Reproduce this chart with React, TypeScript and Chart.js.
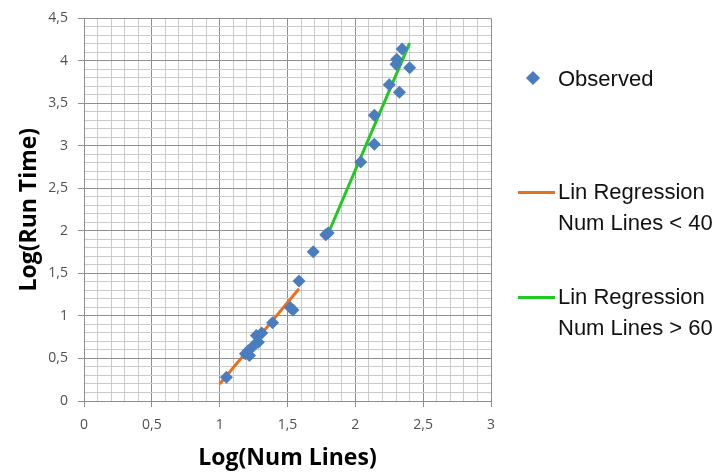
import React, { useEffect, useRef } from "react";
import { Chart, registerables } from "chart.js";

Chart.register(...registerables);

const observedX = [1.05, 1.19, 1.21, 1.22, 1.25, 1.27, 1.285, 1.31, 1.39, 1.52, 1.54, 1.585, 1.69, 1.782, 1.80, 2.04, 2.14, 2.14, 2.25, 2.30, 2.305, 2.325, 2.345, 2.40];
const observedY = [0.28, 0.555, 0.59, 0.535, 0.65, 0.77, 0.69, 0.80, 0.92, 1.10, 1.07, 1.41, 1.756, 1.955, 1.975, 2.81, 3.02, 3.36, 3.72, 3.96, 4.02, 3.63, 4.14, 3.92];

const lowRegX = [1.0, 1.585];
const lowRegY = [0.2, 1.32];
const highRegX = [1.8, 2.4];
const highRegY = [1.97, 4.21];

const xTickRange = [0, 3];
const yTickRange = [0, 4.5];

const legendLabels = ["Observed", "Lin Regression\nNum Lines < 40", "Lin Regression\nNum Lines > 60"];

const BLUE = "#4a7dbd";
const ORANGE = "#e8711f";
const GREEN = "#1fc91f";
const MAJOR = "#8e8e8e";
const MINOR = "#cbcbcb";

const toPts = (xs: number[], ys: number[]) => xs.map((x, i) => ({ x, y: ys[i] }));
const isMajor = (v: number) => Math.abs(v * 2 - Math.round(v * 2)) < 1e-6;
const fmt = (v: number) => (Math.round(v * 10) / 10).toString().replace(".", ",");

export default function App() {
  const ref = useRef<HTMLCanvasElement | null>(null);

  useEffect(() => {
    if (!ref.current) return;
    const tickFont = { family: "'Open Sans', sans-serif", size: 14 };
    const gridOpts = {
      color: (c: any) => (c.tick && isMajor(c.tick.value) ? MAJOR : MINOR),
      tickColor: (c: any) => (c.tick && isMajor(c.tick.value) ? MAJOR : "rgba(0,0,0,0)"),
      tickLength: 6,
      lineWidth: 1,
    };
    const chart = new Chart(ref.current, {
      type: "scatter",
      data: {
        datasets: [
          {
            label: legendLabels[0],
            data: toPts(observedX, observedY),
            pointStyle: "rectRot",
            pointRadius: 6.5,
            backgroundColor: BLUE,
            borderColor: BLUE,
            borderWidth: 0,
            order: 0,
          },
          {
            label: legendLabels[1],
            data: toPts(lowRegX, lowRegY),
            showLine: true,
            pointRadius: 0,
            borderColor: ORANGE,
            borderWidth: 3,
            order: 1,
          },
          {
            label: legendLabels[2],
            data: toPts(highRegX, highRegY),
            showLine: true,
            pointRadius: 0,
            borderColor: GREEN,
            borderWidth: 3,
            order: 1,
          },
        ],
      },
      options: {
        animation: false,
        responsive: true,
        maintainAspectRatio: false,
        layout: { padding: { left: 0, top: 15, right: 230, bottom: 0 } },
        plugins: { legend: { display: false }, tooltip: { enabled: false } },
        scales: {
          x: {
            type: "linear",
            min: xTickRange[0],
            max: xTickRange[1],
            afterFit: (s: any) => {
              s.height = 73;
            },
            ticks: {
              stepSize: 0.1,
              autoSkip: false,
              maxRotation: 0,
              padding: 10,
              color: "#505050",
              font: tickFont,
              callback: (v: any) => (isMajor(Number(v)) ? fmt(Number(v)) : ""),
            },
            grid: gridOpts,
            border: { color: MAJOR },
            title: {
              display: true,
              text: "Log(Num Lines)",
              color: "#000",
              font: { family: "'Open Sans', sans-serif", size: 23, weight: "bold" },
              padding: { top: 0, bottom: 2 },
            },
          },
          y: {
            type: "linear",
            min: yTickRange[0],
            max: yTickRange[1],
            afterFit: (s: any) => {
              s.width = 84;
            },
            ticks: {
              stepSize: 0.1,
              autoSkip: false,
              maxTicksLimit: 100,
              padding: 10,
              color: "#505050",
              font: tickFont,
              callback: (v: any) => (isMajor(Number(v)) ? fmt(Number(v)) : ""),
            },
            grid: gridOpts,
            border: { color: MAJOR },
            title: {
              display: true,
              text: "Log(Run Time)",
              color: "#000",
              font: { family: "'Open Sans', sans-serif", size: 23, weight: "bold" },
              padding: { top: 16, bottom: 0 },
            },
          },
        },
      },
    });
    return () => chart.destroy();
  }, []);

  const textStyle: React.CSSProperties = {
    position: "absolute",
    left: 558,
    fontFamily: "'Liberation Sans', Arial, sans-serif",
    fontSize: 22,
    lineHeight: "31px",
    color: "#111",
    whiteSpace: "pre",
  };

  return (
    <div style={{ position: "absolute", left: 0, top: 0, width: 721, height: 474, background: "#fff" }}>
      <canvas ref={ref} />
      <div
        style={{
          position: "absolute",
          left: 528,
          top: 73,
          width: 10,
          height: 10,
          background: BLUE,
          transform: "rotate(45deg)",
        }}
      />
      <div style={{ ...textStyle, top: 63 }}>{legendLabels[0]}</div>
      <div style={{ position: "absolute", left: 518, top: 191, width: 37, height: 3, background: ORANGE }} />
      <div style={{ ...textStyle, top: 176 }}>{legendLabels[1]}</div>
      <div style={{ position: "absolute", left: 518, top: 296, width: 37, height: 3, background: GREEN }} />
      <div style={{ ...textStyle, top: 281 }}>{legendLabels[2]}</div>
    </div>
  );
}
